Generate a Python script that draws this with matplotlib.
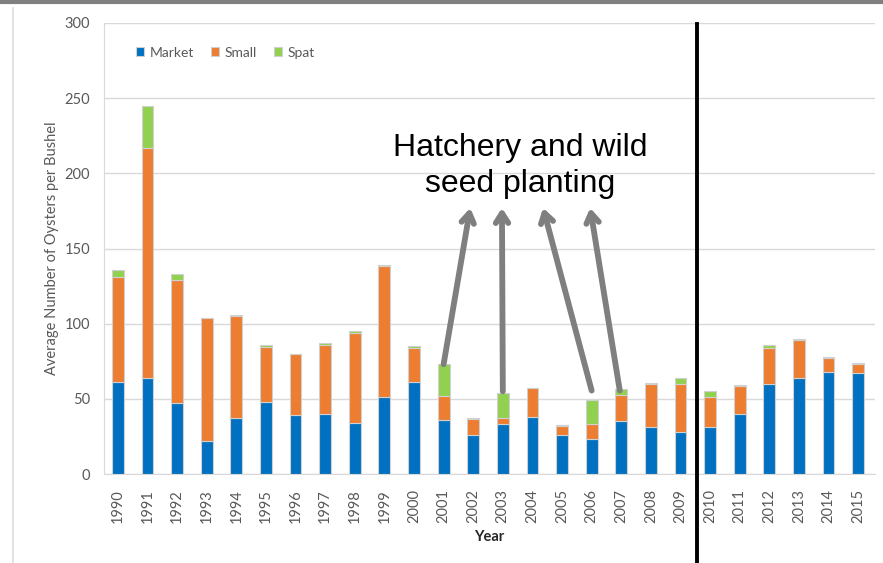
import numpy as np
import matplotlib.pyplot as plt
from matplotlib.lines import Line2D

## Data

years = ['1990', '1991', '1992', '1993', '1994', '1995', '1996', '1997', '1998', '1999',
         '2000', '2001', '2002', '2003', '2004', '2005', '2006', '2007', '2008', '2009',
         '2010', '2011', '2012', '2013', '2014', '2015']

market = [61, 64, 47, 22, 37, 48, 39, 40, 34, 51,
          61, 36, 26, 33, 38, 26, 23, 35, 31, 28,
          31, 40, 60, 64, 68, 67]

small = [70, 153, 82, 82, 68, 36.5, 40.5, 45.5, 60, 87.5,
         23, 16, 10.5, 4, 19, 6, 10.5, 17.5, 29, 32,
         20, 18.5, 24, 25, 9, 6]

spat = [5, 28, 4, 0, 1, 1.5, 0.5, 1.5, 1, 0.5,
        1, 21, 0.5, 17, 0.5, 0.5, 15.5, 4, 0.5, 4,
        4, 0.5, 2, 1, 1, 1]

## arrow (tail, head) pairs for the annotation
arrow_tails = [(11, 73), (13, 55), (16, 55.5), (16.95, 55.5)]
arrow_heads = [(11.9, 177), (12.97, 177), (14.36, 177), (15.95, 177)]

## Colours
c_market = '#0070C0'
c_small = '#ED7D31'
c_spat = '#92D050'
txt_gray = '#595959'

plt.rcParams['font.family'] = ['Lato', 'DejaVu Sans']

fig = plt.figure(figsize=(8.83, 5.63), dpi=100)
ax = fig.add_axes([104/883, 89/563, 771/883, 451/563])

x = np.arange(len(years))
market = np.array(market)
small = np.array(small)
spat = np.array(spat)

bw = 0.4
ec = '#D0D0D0'
ax.bar(x, market, bw, color=c_market, edgecolor=ec, linewidth=0.8, label='Market', zorder=3)
ax.bar(x, small, bw, bottom=market, color=c_small, edgecolor=ec, linewidth=0.8, label='Small', zorder=3)
ax.bar(x, spat, bw, bottom=market + small, color=c_spat, edgecolor=ec, linewidth=0.8, label='Spat', zorder=3)

## Axes styling
ax.set_xlim(-0.47, 25.57)
ax.set_ylim(0, 300)
ax.set_yticks(np.arange(0, 301, 50))
ax.set_xticks(x)
ax.set_xticklabels(years, rotation=90, fontsize=10.5, color=txt_gray)
ax.tick_params(axis='y', labelsize=10.5, colors=txt_gray, length=0, pad=10)
ax.tick_params(axis='x', length=0, pad=11)
ax.grid(axis='y', color='#D9D9D9', linewidth=1, zorder=0)
for s in ['top', 'right']:
    ax.spines[s].set_visible(False)
for s in ['left', 'bottom']:
    ax.spines[s].set_color('#D9D9D9')

ax.set_ylabel('Average Number of Oysters per Bushel', fontsize=10.5, color=txt_gray, labelpad=4)
ax.set_xlabel('Year', fontsize=10.5, fontweight='bold', color='#262626', labelpad=5)

leg = ax.legend(loc='upper left', bbox_to_anchor=(0.025, 0.975), ncol=3, frameon=False,
                fontsize=10, handlelength=0.6, handleheight=0.6, handletextpad=0.4,
                columnspacing=1.2, labelcolor=txt_gray)

## Divider between 2009 and 2010
ax.axvline(19.55, ymin=-0.2, ymax=0.998, color='black', linewidth=2.8, clip_on=False, zorder=5)

## Annotation
ax.text(13.58, 205, 'Hatchery and wild\nseed planting', ha='center', va='center',
        fontsize=23, family='Liberation Sans', color='black', linespacing=1.25, zorder=6)
for t, h in zip(arrow_tails, arrow_heads):
    ax.annotate('', xy=h, xytext=t,
                arrowprops=dict(arrowstyle='->, head_length=0.7, head_width=0.45',
                                color='#7F7F7F', lw=4.2, shrinkA=0, shrinkB=0),
                zorder=6)

## Screenshot frame
fig.add_artist(Line2D([0, 1], [0.997, 0.997], color='#808080', linewidth=3, transform=fig.transFigure))
fig.add_artist(Line2D([12.5/883, 12.5/883], [0, 0.985], color='#DDDDDD', linewidth=1.2, transform=fig.transFigure))

fig.savefig('out.png', dpi=100)
